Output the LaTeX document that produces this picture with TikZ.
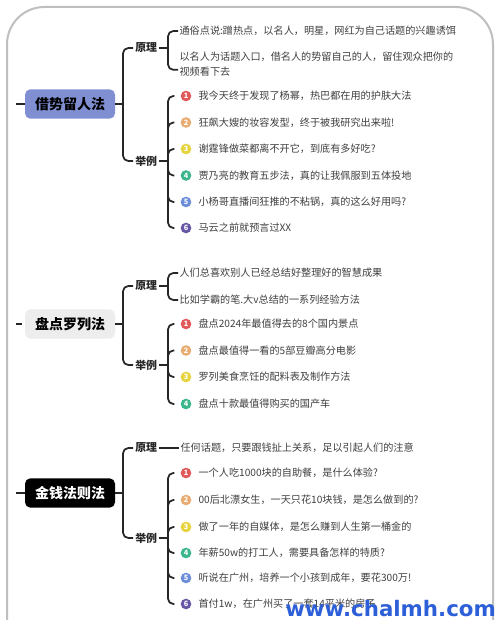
\documentclass[tikz,border=0pt]{standalone}
\usepackage{fontspec}
\setmainfont{Noto Sans CJK SC}
\newfontfamily\wmfont{DejaVu Sans}
\begin{document}
\begin{tikzpicture}[x=0.75pt,y=-0.75pt,
  conn/.style={draw=black!85,line width=1.3pt,rounded corners=4pt},
  mainbox/.style={rounded corners=4pt,minimum width=67.5pt,minimum height=22pt,inner sep=0pt,font=\fontsize{10.5}{12}\selectfont\bfseries},
  lbl/.style={anchor=west,inner sep=1.5pt,font=\fontsize{8.2}{10}\selectfont\bfseries,text=black!85},
  leaf/.style={anchor=west,inner sep=1pt,align=left,font=\fontsize{7.6}{11.2}\selectfont,text=black!75},
  num/.style={circle,fill=#1,text=white,inner sep=0pt,minimum size=8pt,font=\fontsize{5.5}{6}\selectfont\bfseries}]
\definecolor{cA}{HTML}{E05A5A}
\definecolor{cB}{HTML}{E9AC72}
\definecolor{cC}{HTML}{E6D43E}
\definecolor{cD}{HTML}{3BB68A}
\definecolor{cE}{HTML}{6C8ED8}
\definecolor{cF}{HTML}{6857A6}
\definecolor{blueA}{HTML}{7F8FD2}
\definecolor{wm}{HTML}{2D5FD8}
\useasboundingbox (0,0) rectangle (500,620);
\fill[white] (0,0) rectangle (500,620);
\begin{scope}
\clip (0,0) rectangle (500,620);
\draw[draw=black!25,line width=1.5pt,rounded corners=28pt] (7,7) rectangle (493,680);
\end{scope}

% ---------- Section 1 ----------
\node[mainbox,fill=blueA] (m1) at (70,104) {借势留人法};
\coordinate (s1) at (16,104);
\draw[conn] (s1) -- (m1.west);
\node[lbl] (p1) at (133,48) {原理};
\node[lbl] (e1) at (133,161) {举例};
\draw[conn] (m1.east) -- (123,104) coordinate (j1);
\draw[conn] (j1) |- (p1.west);
\draw[conn] (j1) |- (e1.west);
\node[leaf] (p1a) at (178,31) {通俗点说:蹭热点，以名人，明星，网红为自己话题的兴趣诱饵};
\node[leaf] (p1b) at (178,64.5) {以名人为话题入口，借名人的势留自己的人，留住观众把你的\\视频看下去};
\draw[conn] (p1.east) -- (168,48) coordinate (j1p);
\draw[conn] (j1p) |- (p1a.west);
\draw[conn] (j1p) |- ([yshift=-4]p1b.west);
\draw[conn] (e1.east) -- (168,161) coordinate (j1e);
\foreach \y/\c/\n/\t in {96/cA/1/我今天终于发现了杨幂，热巴都在用的护肤大法,
  122.5/cB/2/狂飙大嫂的妆容发型，终于被我研究出来啦!,
  149/cC/3/谢霆锋做菜都离不开它，到底有多好吃?,
  175.5/cD/4/贾乃亮的教育五步法，真的让我佩服到五体投地,
  202/cE/5/小杨哥直播间狂推的不粘锅，真的这么好用吗?,
  228/cF/6/马云之前就预言过XX}{
  \node[num=\c] (a\n) at (186,\y) {\n};
  \node[leaf] (at\n) at (197,\y) {\t};
  \draw[conn] (j1e) |- ([xshift=-4.5pt]a\n.west);
}

% ---------- Section 2 ----------
\node[mainbox,fill=black!7] (m2) at (70,324) {盘点罗列法};
\coordinate (s2) at (16,324);
\draw[conn] (s2) -- (22,324);
\node[lbl] (p2) at (133,286) {原理};
\node[lbl] (e2) at (133,365) {举例};
\draw[conn] (m2.east) -- (123,324) coordinate (j2);
\draw[conn] (j2) |- (p2.west);
\draw[conn] (j2) |- (e2.west);
\node[leaf] (p2a) at (178,273) {人们总喜欢别人已经总结好整理好的智慧成果};
\node[leaf] (p2b) at (178,300) {比如学霸的笔.大v总结的一系列经验方法};
\draw[conn] (p2.east) -- (168,286) coordinate (j2p);
\draw[conn] (j2p) |- (p2a.west);
\draw[conn] (j2p) |- (p2b.west);
\draw[conn] (e2.east) -- (168,365) coordinate (j2e);
\foreach \y/\c/\n/\t in {324/cA/1/盘点2024年最值得去的8个国内景点,
  350.5/cB/2/盘点最值得一看的5部豆瓣高分电影,
  377/cC/3/罗列美食烹饪的配料表及制作方法,
  404/cD/4/盘点十款最值得购买的国产车}{
  \node[num=\c] (b\n) at (186,\y) {\n};
  \node[leaf] (bt\n) at (197,\y) {\t};
  \draw[conn] (j2e) |- ([xshift=-4.5pt]b\n.west);
}

% ---------- Section 3 ----------
\node[mainbox,fill=black,text=white] (m3) at (70,493) {金钱法则法};
\coordinate (s3) at (16,493);
\draw[conn] (s3) -- (m3.west);
\node[lbl] (p3) at (133,448) {原理};
\node[lbl] (e3) at (133,538) {举例};
\draw[conn] (m3.east) -- (123,493) coordinate (j3);
\draw[conn] (j3) |- (p3.west);
\draw[conn] (j3) |- (e3.west);
\node[leaf] (p3a) at (179,448) {任何话题，只要跟钱扯上关系，足以引起人们的注意};
\draw[conn] (p3.east) -- (p3a.west);
\draw[conn] (e3.east) -- (168,538) coordinate (j3e);
\foreach \y/\c/\n/\t in {473/cA/1/一个人吃1000块的自助餐，是什么体验?,
  500/cB/2/00后北漂女生，一天只花10块钱，是怎么做到的?,
  527/cC/3/做了一年的自媒体，是怎么赚到人生第一桶金的,
  553/cD/4/年薪50w的打工人，需要具备怎样的特质?,
  578/cE/5/听说在广州，培养一个小孩到成年，要花300万!,
  604/cF/6/首付1w，在广州买了一套14平米的房子}{
  \node[num=\c] (c\n) at (186,\y) {\n};
  \node[leaf] (ct\n) at (197,\y) {\t};
  \draw[conn] (j3e) |- ([xshift=-4.5pt]c\n.west);
}

% watermark
\node[anchor=east,inner sep=0pt,text=wm,font=\wmfont\fontsize{16}{18}\selectfont\bfseries] (wmk) at (496,609) {www.chalmh.com};
\end{tikzpicture}
\end{document}
